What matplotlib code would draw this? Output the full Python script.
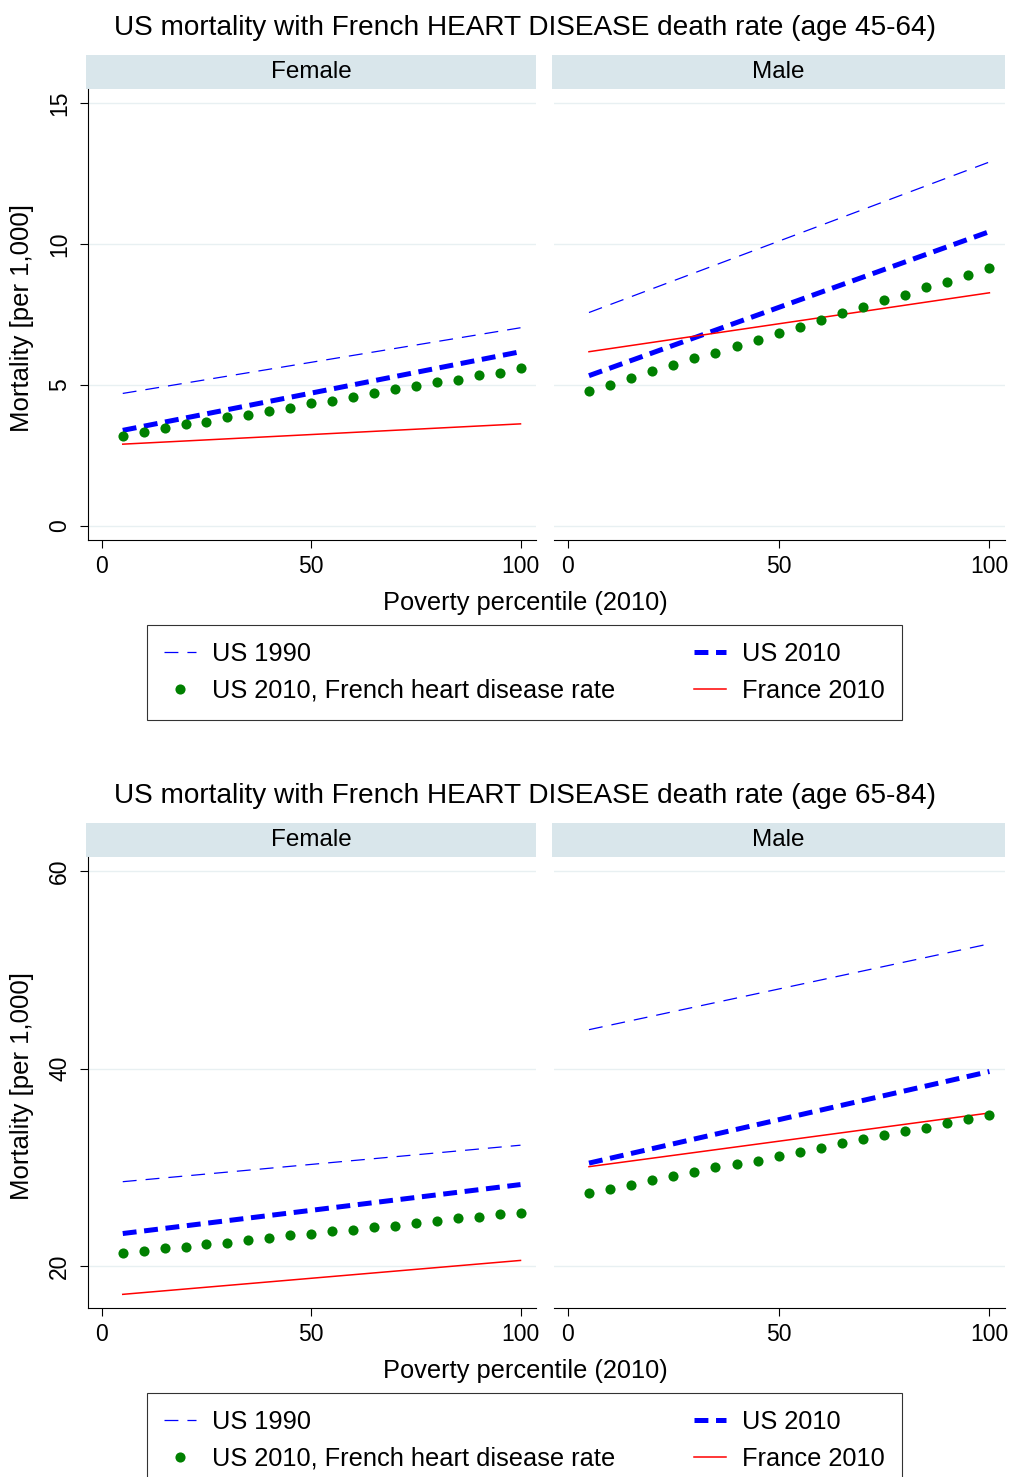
import matplotlib
matplotlib.use("Agg")
import matplotlib.pyplot as plt

plt.rcParams['font.family'] = ['Liberation Sans', 'DejaVu Sans']
plt.rcParams['lines.scale_dashes'] = False

W, H = 1011, 1477

# poverty percentile groups
pct = [5, 10, 15, 20, 25, 30, 35, 40, 45, 50, 55, 60, 65, 70, 75, 80, 85, 90, 95, 100]
line_x = [5, 100]

# age 45-64
f45_us1990 = [4.70, 7.03]
f45_us2010 = [3.39, 6.18]
f45_fr2010 = [2.90, 3.62]
f45_french_hd = [3.19, 3.34, 3.46, 3.61, 3.70, 3.85, 3.95, 4.09, 4.20, 4.35,
                 4.44, 4.59, 4.70, 4.85, 4.95, 5.09, 5.19, 5.34, 5.44, 5.61]
m45_us1990 = [7.57, 12.91]
m45_us2010 = [5.33, 10.44]
m45_fr2010 = [6.18, 8.27]
m45_french_hd = [4.78, 5.00, 5.25, 5.49, 5.70, 5.95, 6.15, 6.39, 6.59, 6.85,
                 7.05, 7.30, 7.56, 7.76, 8.00, 8.20, 8.46, 8.66, 8.91, 9.16]

# age 65-84
f65_us1990 = [28.57, 32.26]
f65_us2010 = [23.33, 28.28]
f65_fr2010 = [17.18, 20.61]
f65_french_hd = [21.41, 21.52, 21.88, 21.99, 22.28, 22.42, 22.71, 22.86, 23.15, 23.29,
                 23.54, 23.69, 23.98, 24.12, 24.41, 24.56, 24.85, 24.99, 25.28, 25.42]
m65_us1990 = [43.94, 52.62]
m65_us2010 = [30.45, 39.71]
m65_fr2010 = [30.09, 35.52]
m65_french_hd = [27.41, 27.85, 28.28, 28.72, 29.15, 29.55, 30.02, 30.31, 30.71, 31.14,
                 31.57, 32.01, 32.44, 32.88, 33.31, 33.74, 34.03, 34.47, 34.90, 35.33]

legend_labels = ['US 1990', 'US 2010, French heart disease rate', 'US 2010', 'France 2010']

STRIP = '#d9e6eb'
GRID = '#e8f0f2'


def rect(x0, y0, x1, y1):
    return [x0 / W, 1 - y1 / H, (x1 - x0) / W, (y1 - y0) / H]


def panel(fig, x0, x1, top, bottom, strip_h, ylim, yticks, name, us1990, us2010, fr2010, dots, first):
    sax = fig.add_axes(rect(x0 - 2, top, x1, top + strip_h))
    sax.set_facecolor(STRIP)
    sax.set_xticks([])
    sax.set_yticks([])
    for s in sax.spines.values():
        s.set_visible(False)
    sax.text(0.5, 0.5, name, ha='center', va='center', fontsize=17.5, transform=sax.transAxes)

    ax = fig.add_axes(rect(x0, top + strip_h, x1, bottom))
    ax.set_xlim(-3.3, 103.7)
    ax.set_ylim(*ylim)
    ax.set_yticks(yticks)
    ax.set_xticks([0, 50, 100])
    ax.grid(axis='y', color=GRID, lw=1.0)
    ax.set_axisbelow(True)
    for s in ['top', 'right']:
        ax.spines[s].set_visible(False)
    ax.spines['bottom'].set_linewidth(0.8)
    ax.spines['left'].set_linewidth(0.8)
    ax.tick_params(axis='x', length=6, width=0.8, labelsize=16.5, pad=5)
    ax.tick_params(axis='y', length=6, width=0.8, labelsize=16.5, pad=6, labelrotation=90)
    for lab in ax.get_yticklabels():
        lab.set_va('center')
    if not first:
        ax.spines['left'].set_visible(False)
        ax.tick_params(axis='y', left=False, labelleft=False)

    h1, = ax.plot(line_x, us1990, color='#0000ff', lw=0.9, dashes=(10, 6.5))
    h3, = ax.plot(line_x, us2010, color='#0000ff', lw=3.6, dashes=(10, 5.5), dash_capstyle='butt')
    h4, = ax.plot(line_x, fr2010, color='#ff0000', lw=1.1)
    h2, = ax.plot(pct, dots, 'o', color='#008000', ms=7.3, mec='none')
    return [h1, h2, h3, h4]


def block(fig, y_off, age, ylim, yticks, f_data, m_data):
    fig.text(525 / W, 1 - (28 + y_off) / H,
             'US mortality with French HEART DISEASE death rate (age %s)' % age,
             ha='center', va='center', fontsize=20.2)
    handles = panel(fig, 88, 536, 55 + y_off, 540 + y_off, 34, ylim, yticks, 'Female', *f_data, True)
    panel(fig, 554, 1005, 55 + y_off, 540 + y_off, 34, ylim, yticks, 'Male', *m_data, False)
    fig.text(22 / W, 1 - (318 + y_off) / H, 'Mortality [per 1,000]', rotation=90,
             ha='center', va='center', fontsize=18.5)
    fig.text(525 / W, 1 - (603 + y_off) / H, 'Poverty percentile (2010)',
             ha='center', va='center', fontsize=18.3)
    leg = fig.legend(handles, legend_labels, ncol=2, loc='upper left',
                     bbox_to_anchor=rect(147, 625 + y_off, 902, 713 + y_off),
                     mode='expand', borderaxespad=0, frameon=True, fancybox=False,
                     edgecolor='black', fontsize=18.3, handlelength=1.25, handletextpad=0.62,
                     labelspacing=0.5, borderpad=0.68, numpoints=1)
    leg.get_frame().set_linewidth(0.8)


fig = plt.figure(figsize=(W / 100, H / 100), dpi=100)
block(fig, 0, '45-64', (-0.5, 15.5), [0, 5, 10, 15],
      (f45_us1990, f45_us2010, f45_fr2010, f45_french_hd),
      (m45_us1990, m45_us2010, m45_fr2010, m45_french_hd))
block(fig, 768, '65-84', (15.8, 61.4), [20, 40, 60],
      (f65_us1990, f65_us2010, f65_fr2010, f65_french_hd),
      (m65_us1990, m65_us2010, m65_fr2010, m65_french_hd))

fig.savefig('out.png', dpi=100, facecolor='white')
